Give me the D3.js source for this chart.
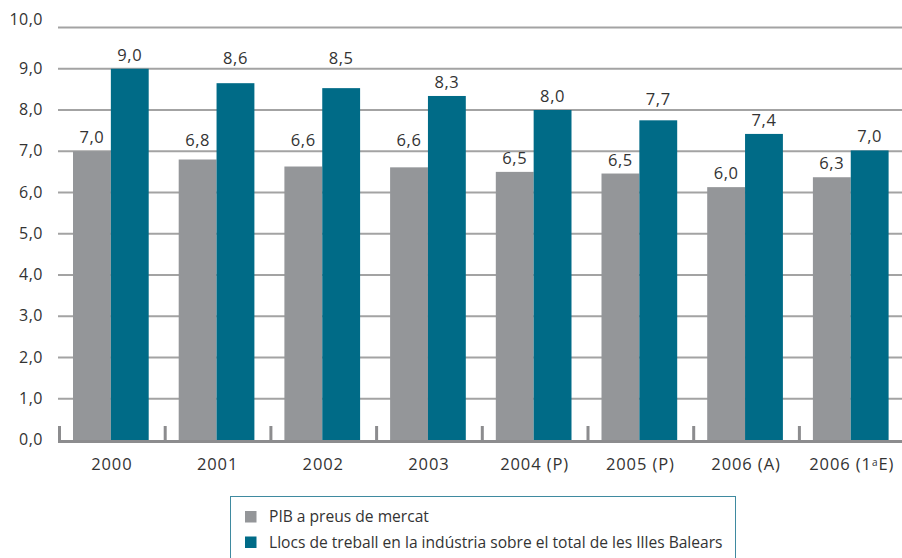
<!DOCTYPE html>
<html>
<head>
<meta charset="utf-8">
<script src="https://cdn.jsdelivr.net/npm/d3@7"></script>
<style>
  html, body { margin: 0; padding: 0; background: #fff; }
  svg { display: block; font-family: "Open Sans", sans-serif; }
  text { fill: #333; }
</style>
</head>
<body>
<svg id="chart" width="902" height="558"></svg>
<script>
// categories and series
const years = ['2000', '2001', '2002', '2003', '2004 (P)', '2005 (P)', '2006 (A)', '2006 (1aE)'];
const pibValues = [7.0, 6.8, 6.63, 6.61, 6.5, 6.46, 6.13, 6.37];
const pibLabels = ['7,0', '6,8', '6,6', '6,6', '6,5', '6,5', '6,0', '6,3'];
const llocsValues = [9.0, 8.65, 8.53, 8.34, 8.0, 7.75, 7.42, 7.02];
const llocsLabels = ['9,0', '8,6', '8,5', '8,3', '8,0', '7,7', '7,4', '7,0'];
const yTicks = [0, 1, 2, 3, 4, 5, 6, 7, 8, 9, 10];
const seriesNames = ['PIB a preus de mercat', 'Llocs de treball en la indústria sobre el total de les Illes Balears'];
const seriesColors = ['#949699', '#006b87'];

const svg = d3.select('#chart');

const x0 = d3.scaleBand().domain(years).range([58, 58 + 8 * 105.7]);
const x1 = d3.scaleBand().domain([0, 1]).range([15, x0.bandwidth() - 15]);
const y = d3.scaleLinear().domain([0, 10]).range([440, 27.5]);

// gridlines
svg.append('g').selectAll('line')
    .data(yTicks.filter(d => d > 0))
    .enter().append('line')
    .attr('x1', 58).attr('x2', 902)
    .attr('y1', d => y(d)).attr('y2', d => y(d))
    .attr('stroke', '#a3a3a3')
    .attr('stroke-width', 2);

// y labels
svg.append('g').selectAll('text')
    .data(yTicks)
    .enter().append('text')
    .attr('x', 43)
    .attr('y', d => d === 10 ? y(d) - 3 : y(d) + 5)
    .attr('text-anchor', 'end')
    .style('font-size', '16px')
    .style('letter-spacing', '0.5px')
    .text(d => d3.format('.1f')(d).replace('.', ','));

// bars
const groups = svg.append('g').selectAll('g')
    .data(years)
    .enter().append('g')
    .attr('transform', d => 'translate(' + x0(d) + ',0)');

const series = [pibValues, llocsValues];
const seriesLabels = [pibLabels, llocsLabels];

groups.selectAll('rect')
    .data((d, i) => [0, 1].map(s => ({ s: s, v: series[s][i], label: seriesLabels[s][i] })))
    .enter().append('rect')
    .attr('x', d => x1(d.s))
    .attr('width', x1.bandwidth())
    .attr('y', d => y(d.v))
    .attr('height', d => y(0) - y(d.v))
    .attr('fill', d => seriesColors[d.s]);

// value labels, moved above a gridline when they would sit on it
function labelY(v) {
    let base = y(v) - 8;
    yTicks.forEach(t => {
        const gy = y(t);
        if (gy > base - 12 && gy < base + 2) base = gy - 5;
    });
    return base;
}

groups.selectAll('text')
    .data((d, i) => [0, 1].map(s => ({ s: s, v: series[s][i], label: seriesLabels[s][i] })))
    .enter().append('text')
    .attr('x', d => x1(d.s) + x1.bandwidth() / 2)
    .attr('y', d => labelY(d.v))
    .attr('text-anchor', 'middle')
    .style('font-size', '16.5px')
    .style('letter-spacing', '0.6px')
    .text(d => d.label);

// bottom axis line and tick marks
svg.append('rect')
    .attr('x', 58).attr('y', 440)
    .attr('width', 902 - 58).attr('height', 3)
    .attr('fill', '#8c8c8e');

svg.append('g').selectAll('rect')
    .data(years)
    .enter().append('rect')
    .attr('x', d => x0(d))
    .attr('y', 426)
    .attr('width', 3)
    .attr('height', 15)
    .attr('fill', '#8c8c8e');

// category labels
const xl = svg.append('g').selectAll('text')
    .data(years)
    .enter().append('text')
    .attr('x', d => x0(d) + x0.bandwidth() / 2 + 1)
    .attr('y', 470)
    .attr('text-anchor', 'middle')
    .style('font-size', '16.5px')
    .style('letter-spacing', '0.9px');

xl.each(function (d) {
    const t = d3.select(this);
    if (d.indexOf('1a') > -1) {
        t.append('tspan').text('2006 (1');
        t.append('tspan').attr('dy', -4).style('font-size', '10px').text('a');
        t.append('tspan').attr('dy', 4).text('E)');
    } else {
        t.text(d);
    }
});

// legend
svg.append('rect')
    .attr('x', 230.5).attr('y', 496.5)
    .attr('width', 505).attr('height', 80)
    .attr('fill', 'none')
    .attr('stroke', '#3f8aa0')
    .attr('stroke-width', 1);

const legend = svg.append('g').selectAll('g')
    .data(seriesNames)
    .enter().append('g')
    .attr('transform', (d, i) => 'translate(245,' + (511 + i * 25.5) + ')');

legend.append('rect')
    .attr('width', 11.5).attr('height', 11.5)
    .attr('fill', (d, i) => seriesColors[i]);

legend.append('text')
    .attr('x', 24).attr('y', 11)
    .style('font-size', '15.6px')
    .text(d => d);
</script>
</body>
</html>
